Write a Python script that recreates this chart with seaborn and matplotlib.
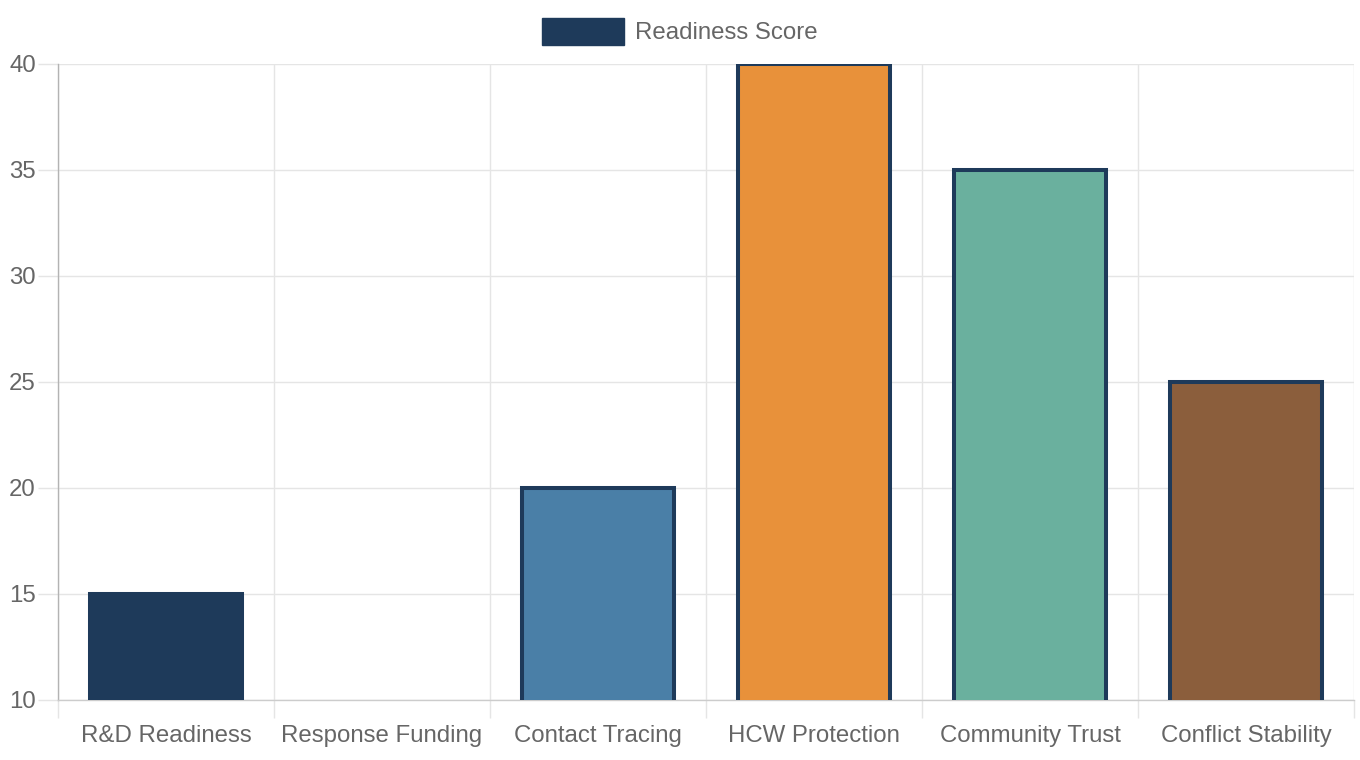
import matplotlib
matplotlib.use('Agg')
import matplotlib.pyplot as plt
import seaborn as sns
import pandas as pd
import numpy as np
from matplotlib.patches import Patch

categories = ['R&D Readiness', 'Response Funding', 'Contact Tracing',
              'HCW Protection', 'Community Trust', 'Conflict Stability']
scores = [15, 5, 20, 40, 35, 25]
bar_colors = ['#1e3a5a', '#b5533c', '#4a7fa7', '#e8913a', '#6ab09e', '#8b5e3c']
series_label = 'Readiness Score'
y_ticks = [10, 15, 20, 25, 30, 35, 40]

df = pd.DataFrame({'category': categories, 'score': scores})

sns.set_theme(style='white')
plt.rcParams['font.family'] = ['Liberation Sans', 'DejaVu Sans']

W, H = 1360, 760
fig = plt.figure(figsize=(W / 100, H / 100), dpi=100)
ax = fig.add_axes([58 / W, 60 / H, 1296 / W, 636 / H])

grid_c = '#e5e5e5'
text_c = '#666666'
edge_c = '#1e3a5a'
fs = 17.28

sns.barplot(data=df, x='category', y='score', hue='category', palette=bar_colors,
            legend=False, width=0.705, saturation=1, edgecolor=edge_c,
            linewidth=2.9, ax=ax, zorder=3)

ax.set_xlim(-0.5, len(categories) - 0.5)
ax.set_ylim(y_ticks[0], y_ticks[-1])
ax.set_yticks(y_ticks)
ax.set_xlabel('')
ax.set_ylabel('')

ax.set_axisbelow(True)
ax.yaxis.grid(True, color=grid_c, linewidth=1)
ax.set_xticks(np.arange(-0.5, len(categories), 1), minor=True)
ax.xaxis.grid(True, which='minor', color=grid_c, linewidth=1)
ax.xaxis.grid(False, which='major')

ax.tick_params(axis='y', which='major', length=14.4, width=1, color=grid_c,
               labelcolor=text_c, labelsize=fs, pad=1.5, left=True)
ax.tick_params(axis='x', which='major', length=0, labelcolor=text_c,
               labelsize=fs, pad=18)
ax.tick_params(axis='x', which='minor', length=13, width=1, color=grid_c,
               bottom=True)

for s in ['top', 'right']:
    ax.spines[s].set_visible(False)
ax.spines['left'].set_color('#b3b3b3')
ax.spines['left'].set_linewidth(1)
ax.spines['bottom'].set_color('#cccccc')
ax.spines['bottom'].set_linewidth(1)

fig.legend(handles=[Patch(facecolor=bar_colors[0], edgecolor=edge_c)],
           labels=[series_label], loc='upper center',
           bbox_to_anchor=(0.5, 1 + 4 / H), frameon=False, fontsize=fs,
           handlelength=3.4, handleheight=1.4, handletextpad=0.45,
           labelcolor=text_c)

fig.savefig('out.png', dpi=100)
